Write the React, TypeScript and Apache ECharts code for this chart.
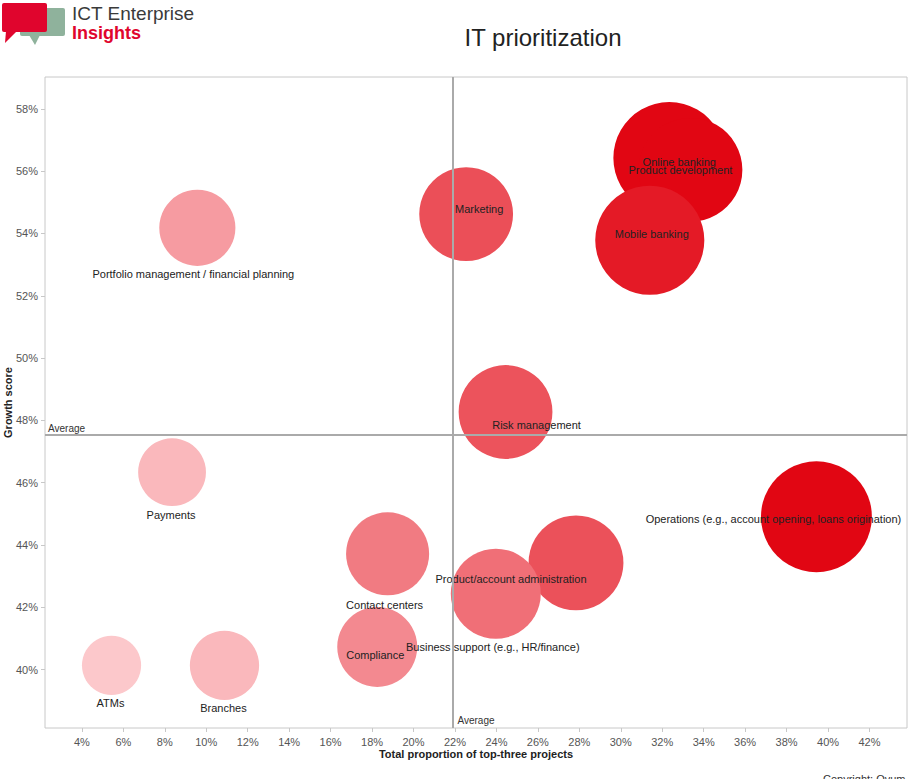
import React, { useEffect, useRef } from "react";
import * as echarts from "echarts";

// ---- data ----
const categories = [
  "Online banking",
  "Product development",
  "Mobile banking",
  "Marketing",
  "Portfolio management / financial planning",
  "Risk management",
  "Payments",
  "Operations (e.g., account opening, loans origination)",
  "Product/account administration",
  "Business support (e.g., HR/finance)",
  "Contact centers",
  "Compliance",
  "ATMs",
  "Branches",
];
// Total proportion of top-three projects (%)
const proportion = [32.34, 33.36, 31.4, 22.54, 9.57, 24.44, 8.35, 39.44, 27.84, 23.97, 18.75, 18.25, 5.43, 10.88];
// Growth score (%)
const growth = [56.42, 56.04, 53.78, 54.62, 54.18, 48.27, 46.34, 44.91, 43.43, 42.44, 43.72, 40.73, 40.14, 40.14];
// Bubble weight (drives size)
const weight = [125, 108, 119, 88, 58, 88, 46, 123, 90, 81, 69, 64, 35, 48];
// Colour intensity (0-100)
const intensity = [100, 100, 90, 64, 26, 62, 12, 100, 63, 48, 42, 35, 4, 12];

const xTicks = [4, 6, 8, 10, 12, 14, 16, 18, 20, 22, 24, 26, 28, 30, 32, 34, 36, 38, 40, 42];
const yTicks = [40, 42, 44, 46, 48, 50, 52, 54, 56, 58];
const averageProportion = 21.88;
const averageGrowth = 47.53;

// label placement relative to bubble centre (layout only)
const labelOffsets: Record<string, [number, number]> = {
  "Online banking": [10, 4],
  "Product development": [-10, 0],
  "Mobile banking": [2, -6],
  Marketing: [13, -5],
  "Portfolio management / financial planning": [-4, 46],
  "Risk management": [31, 13],
  Payments: [-1, 43],
  "Operations (e.g., account opening, loans origination)": [-43, 2],
  "Product/account administration": [-65, 16],
  "Business support (e.g., HR/finance)": [-3, 53],
  "Contact centers": [-3, 51],
  Compliance: [-2, 8],
  ATMs: [-1, 38],
  Branches: [-1, 43],
};

const FONT = "Liberation Sans, Arial, sans-serif";
const X_MIN = 2.22;
const X_MAX = 43.81;
const Y_MIN = 38.13;
const Y_MAX = 59.02;

export default function App() {
  const ref = useRef<HTMLDivElement>(null);
  useEffect(() => {
    if (!ref.current) return;
    const chart = echarts.init(ref.current, null, { renderer: "svg" });
    const data = categories.map((name, i) => ({
      name,
      value: [proportion[i], growth[i], weight[i], intensity[i]],
      label: { offset: labelOffsets[name] || [0, 0] },
    }));
    chart.setOption({
      animation: false,
      textStyle: { fontFamily: FONT },
      grid: {
        left: 45,
        right: 3,
        top: 77,
        bottom: 51,
        show: true,
        borderColor: "#c8c8c8",
        borderWidth: 1,
        backgroundColor: "transparent",
        containLabel: false,
        outerBoundsMode: "none",
      },
      xAxis: {
        type: "value",
        min: X_MIN,
        max: X_MAX,
        splitLine: { show: false },
        axisLine: { show: false },
        axisTick: { show: true, customValues: xTicks, length: 4, lineStyle: { color: "#c8c8c8" } },
        axisLabel: {
          customValues: xTicks,
          formatter: (v: number) => `${Math.round(v)}%`,
          color: "#555",
          fontSize: 11,
          margin: 8,
          fontFamily: FONT,
        },
        name: "Total proportion of top-three projects",
        nameLocation: "middle",
        nameGap: 20,
        nameMoveOverlap: false,
        nameTextStyle: { fontWeight: "bold", fontSize: 11, color: "#222", fontFamily: FONT },
      },
      yAxis: {
        type: "value",
        min: Y_MIN,
        max: Y_MAX,
        splitLine: { show: false },
        axisLine: { show: false },
        axisTick: { show: true, customValues: yTicks, length: 4, lineStyle: { color: "#c8c8c8" } },
        axisLabel: {
          customValues: yTicks,
          formatter: (v: number) => `${Math.round(v)}%`,
          color: "#555",
          fontSize: 11,
          margin: 7,
          fontFamily: FONT,
        },
        name: "Growth score",
        nameLocation: "middle",
        nameGap: 32,
        nameMoveOverlap: false,
        nameTextStyle: { fontWeight: "bold", fontSize: 11, color: "#222", fontFamily: FONT },
      },
      visualMap: {
        show: false,
        type: "continuous",
        dimension: 3,
        min: 0,
        max: 100,
        seriesIndex: 0,
        inRange: { color: ["#fdd0d3", "#e10613"] },
      },
      series: [
        {
          type: "scatter",
          z: 2,
          data,
          symbolSize: (v: number[]) => Math.sqrt(v[2]) * 10,
          itemStyle: { borderWidth: 0, opacity: 1 },
          label: {
            show: true,
            position: "inside",
            formatter: "{b}",
            color: "#222",
            fontSize: 11,
            fontFamily: FONT,
          },
          emphasis: { disabled: true },
        },
        {
          type: "line",
          z: 5,
          data: [],
          markLine: {
            silent: true,
            symbol: ["none", "none"],
            label: { show: false },
            lineStyle: { color: "#aaaaaa", width: 2, type: "solid" },
            data: [{ xAxis: averageProportion }, { yAxis: averageGrowth }],
          },
        },
      ],
    });

    const pv = chart.convertToPixel({ gridIndex: 0 }, [averageProportion, Y_MIN]) as number[];
    const ph = chart.convertToPixel({ gridIndex: 0 }, [X_MIN, averageGrowth]) as number[];

    chart.setOption({
      graphic: [
        // logo
        {
          type: "rect",
          shape: { x: 20, y: 8, width: 45, height: 28, r: 2 },
          style: { fill: "#8fb29c" },
        },
        {
          type: "polygon",
          shape: { points: [[29, 35], [40, 35], [35, 45]] },
          style: { fill: "#8fb29c" },
        },
        {
          type: "rect",
          shape: { x: 2, y: 3, width: 45, height: 29, r: 2 },
          style: { fill: "#e0052d" },
        },
        {
          type: "polygon",
          shape: { points: [[6, 31], [17, 31], [5, 43]] },
          style: { fill: "#e0052d" },
        },
        {
          type: "text",
          x: 72,
          y: 4,
          style: { text: "ICT Enterprise", font: `19px ${FONT}`, fill: "#3a3a3a", textVerticalAlign: "top", lineHeight: 19 },
        },
        {
          type: "text",
          x: 72,
          y: 24,
          style: { text: "Insights", font: `bold 18px ${FONT}`, fill: "#e0052d", textVerticalAlign: "top", lineHeight: 18 },
        },
        // title
        {
          type: "text",
          x: 543,
          y: 37,
          style: {
            text: "IT prioritization",
            font: `24px ${FONT}`,
            fill: "#222",
            textAlign: "center",
            textVerticalAlign: "middle",
          },
        },
        // average labels
        {
          type: "text",
          x: pv[0] + 5,
          y: pv[1] - 3,
          z: 10,
          style: { text: "Average", font: `10px ${FONT}`, fill: "#333", textVerticalAlign: "bottom" },
        },
        {
          type: "text",
          x: ph[0] + 3,
          y: ph[1] - 2,
          z: 10,
          style: { text: "Average", font: `10px ${FONT}`, fill: "#333", textVerticalAlign: "bottom" },
        },
        // copyright
        {
          type: "text",
          x: 823,
          y: 773,
          style: { text: "Copyright: Ovum", font: `11px ${FONT}`, fill: "#333", textVerticalAlign: "top" },
        },
      ],
    });
    return () => chart.dispose();
  }, []);
  return (
    <div
      ref={ref}
      style={{ position: "absolute", left: 0, top: 0, width: 910, height: 779, background: "#fff" }}
    />
  );
}
